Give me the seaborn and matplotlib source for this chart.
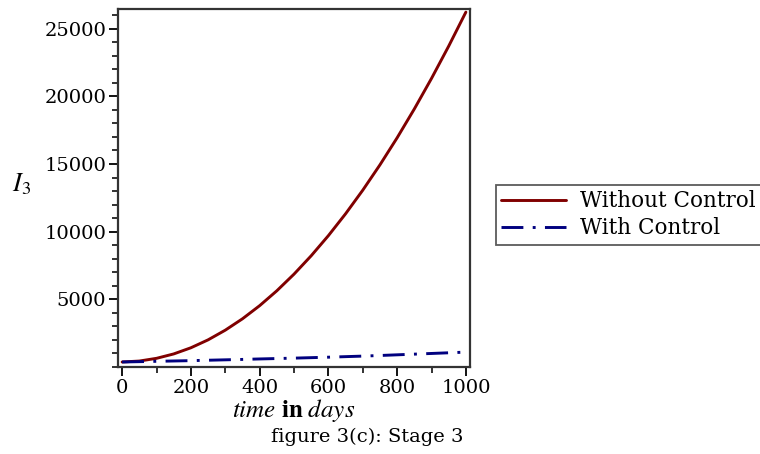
import matplotlib
matplotlib.use("Agg")
import matplotlib.pyplot as plt
from matplotlib.ticker import MultipleLocator
import numpy as np
import pandas as pd
import seaborn as sns

# Infected population in stage 3 over time
time_days = [0, 50, 100, 150, 200, 250, 300, 350, 400, 450, 500,
             550, 600, 650, 700, 750, 800, 850, 900, 950, 1000]
without_control = [370, 440, 640, 965, 1420, 2005, 2720, 3560, 4530, 5630, 6860,
                   8218, 9704, 11319, 13062, 14934, 16934, 19063, 21320, 23706, 26220]
with_control = [370, 395, 420, 445, 470, 500, 530, 560, 595, 625, 655,
                690, 725, 765, 805, 850, 900, 950, 1000, 1050, 1100]
series_names = ["Without Control", "With Control"]

sns.set_theme(style="white")
plt.rcParams["font.family"] = ["DejaVu Serif", "Liberation Serif"]
plt.rcParams["mathtext.fontset"] = "stix"
plt.rcParams["text.color"] = "black"

df = pd.DataFrame({
    "time": time_days * 2,
    "I3": without_control + with_control,
    "case": [series_names[0]] * len(time_days) + [series_names[1]] * len(time_days),
})

fig = plt.figure(figsize=(7.6, 4.54), dpi=100)
ax = fig.add_axes([118 / 760, 1 - 367 / 454, 352 / 760, 358 / 454])

sns.lineplot(
    data=df, x="time", y="I3", hue="case", style="case",
    palette={series_names[0]: "#800000", series_names[1]: "#00007f"},
    dashes={series_names[0]: "", series_names[1]: (7.5, 3.2, 1, 3.2)},
    linewidth=2.1, ax=ax, legend=True,
)

ax.set_xlim(-12, 1012)
ax.set_ylim(0, 26450)
ax.xaxis.set_major_locator(MultipleLocator(200))
ax.xaxis.set_minor_locator(MultipleLocator(100))
ax.yaxis.set_major_locator(MultipleLocator(5000))
ax.yaxis.set_minor_locator(MultipleLocator(1000))
ax.set_yticks([5000, 10000, 15000, 20000, 25000])
ax.tick_params(axis="both", which="major", direction="out", length=6.5, width=1.3,
               labelsize=14, colors="black", pad=2, bottom=True, left=True)
ax.tick_params(axis="both", which="minor", direction="out", length=4.5, width=1.3,
               colors="#222222", bottom=True, left=True)
for sp in ax.spines.values():
    sp.set_visible(True)
    sp.set_color("#333333")
    sp.set_linewidth(1.6)

ax.set_xlabel(r"$\mathit{time}\ \mathbf{in}\ \mathit{days}$", fontsize=18, labelpad=0,
              color="black")
ax.set_ylabel(r"$I_3$", fontsize=19, rotation=0, va="center", ha="center", color="black")
ax.yaxis.set_label_coords(-0.275, 0.51)

handles, labels = ax.get_legend_handles_labels()
leg = ax.legend(handles, labels, loc="upper left",
                bbox_to_anchor=(496 / 760, 1 - 185 / 454), bbox_transform=fig.transFigure,
                frameon=True, fancybox=False, edgecolor="#333333", fontsize=15.5,
                handlelength=3.0, handletextpad=0.65, borderpad=0.25, labelspacing=0.22,
                borderaxespad=0)
leg.get_frame().set_linewidth(1.3)
for t in leg.get_texts():
    t.set_color("black")

fig.text(367 / 760, 1 - 437 / 454, "figure 3(c): Stage 3", ha="center", va="center",
         fontsize=14, color="black")

fig.savefig("out.png", dpi=100)
